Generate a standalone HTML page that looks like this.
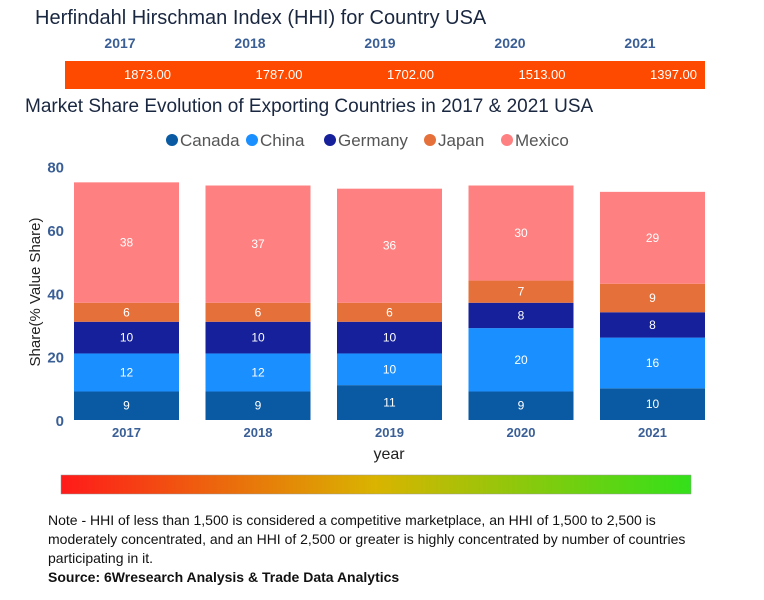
<!DOCTYPE html>
<html><head><meta charset="utf-8"><style>
body{margin:0;background:#fff;font-family:"Liberation Sans",sans-serif;}
#wrap{position:relative;width:764px;height:600px;overflow:hidden;}
</style></head><body>
<div id="wrap">
<svg id="svg" width="764" height="600">
<defs>
<linearGradient id="gr" x1="0" x2="1" y1="0" y2="0">
<stop offset="0" stop-color="#ff1a1a"/><stop offset="0.5" stop-color="#d9b400"/><stop offset="1" stop-color="#33e01a"/>
</linearGradient>
</defs>
<text x="35" y="24" font-size="20" fill="#1a2740">Herfindahl Hirschman Index (HHI) for Country USA</text>
<rect x="65" y="61" width="640" height="28" fill="#fe4a00"/>
<text x="25" y="112" font-size="19" fill="#1a2740">Market Share Evolution of Exporting Countries in 2017 &amp; 2021 USA</text>
<g id="hhi"></g>
<g id="legend"></g>
<g id="plot"></g>
<text transform="translate(40,292) rotate(-90)" text-anchor="middle" font-size="15" fill="#222">Share(% Value Share)</text>
<text x="389" y="459" text-anchor="middle" font-size="16" fill="#222">year</text>
<rect x="61" y="475" width="630" height="19" fill="url(#gr)" stroke="#999" stroke-width="0.5"/>
</svg>
<div style="position:absolute;left:48px;top:511px;width:640px;font-size:14px;line-height:19px;color:#111">Note - HHI of less than 1,500 is considered a competitive marketplace, an HHI of 1,500 to 2,500 is moderately concentrated, and an HHI of 2,500 or greater is highly concentrated by number of countries participating in it.<br><b>Source: 6Wresearch Analysis &amp; Trade Data Analytics</b></div>
</div>
<script>
const years=["2017","2018","2019","2020","2021"];
const hhiValues=["1873.00","1787.00","1702.00","1513.00","1397.00"];
const seriesNames=["Canada","China","Germany","Japan","Mexico"];
const canada=[9,9,11,9,10];
const china=[12,12,10,20,16];
const germany=[10,10,10,8,8];
const japan=[6,6,6,7,9];
const mexico=[38,37,36,30,29];
const yTicks=[0,20,40,60,80];
const colors=["#0a5aa3","#1a8fff","#15209a","#e5703a","#ff8080"];
const series=[canada,china,germany,japan,mexico];
const NS="http://www.w3.org/2000/svg";
function mk(tag,attrs,parent,txt){const e=document.createElementNS(NS,tag);for(const k in attrs)e.setAttribute(k,attrs[k]);if(txt!==undefined)e.textContent=txt;parent.appendChild(e);return e;}
const y0=420,pxPer=253.5/80;
const yS=v=>y0-v*pxPer;
const xC=i=>126.5+i*131.5;
const bw=105;
const hhi=document.getElementById('hhi');
years.forEach((yr,i)=>{
 const t=mk('text',{x:120+i*130,y:48,'text-anchor':'middle','font-size':14,'font-weight':'bold',fill:'#3a5f96'},hhi,yr);
 
 
 const v=mk('text',{x:xC(i)+21,y:79,'text-anchor':'middle','font-size':13,fill:'#fff'},hhi,hhiValues[i]);
 
 
});
const leg=document.getElementById('legend');
let lx=166;
const lw=[72,70,92,69,74];
seriesNames.forEach((n,i)=>{
 const g=mk('g',{},leg);
 
 
 mk('circle',{cx:lx+6,cy:140,r:6,fill:colors[i]},g);
 mk('text',{x:lx+14,y:146,'font-size':17,fill:'#555'},g,n);
 lx+=lw[i]+8;
});
const plot=document.getElementById('plot');
yTicks.forEach(t=>{
 const e=mk('text',{x:64,y:yS(t)+6,'text-anchor':'end','font-size':15,'font-weight':'bold',fill:'#3a5f96'},plot,t);
 
 
});
years.forEach((yr,i)=>{
 let acc=0;
 series.forEach((s,j)=>{
  const v=s[i];
  const r=mk('rect',{x:xC(i)-bw/2,y:yS(acc+v),width:bw,height:v*pxPer,fill:colors[j]},plot);
  
  
  const l=mk('text',{x:xC(i),y:yS(acc+v/2)+4,'text-anchor':'middle','font-size':12,fill:'#fff'},plot,v);
  
  
  acc+=v;
 });
 const x=mk('text',{x:xC(i),y:437,'text-anchor':'middle','font-size':13,'font-weight':'bold',fill:'#3a5f96'},plot,yr);
 
 
});
</script>
</body></html>
